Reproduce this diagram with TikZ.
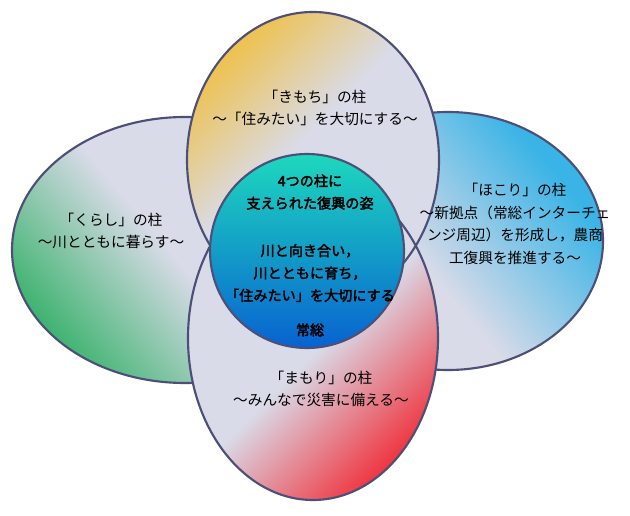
\documentclass[tikz,border=0pt]{standalone}
\usepackage{fontspec}
\newfontfamily\jpfont[AutoFakeBold=2.5]{Noto Sans CJK JP}
\usetikzlibrary{positioning}
\definecolor{pillarGray}{RGB}{217,219,232}
\definecolor{edgeSlate}{RGB}{76,80,120}
\definecolor{kimochiGold}{RGB}{241,190,58}
\definecolor{kurashiGreen}{RGB}{58,178,108}
\definecolor{hokoriBlue}{RGB}{58,180,230}
\definecolor{mamoriRed}{RGB}{240,48,58}
\definecolor{coreTeal}{RGB}{30,216,190}
\definecolor{coreCyan}{RGB}{24,180,230}
\definecolor{coreBlue}{RGB}{8,98,208}
\pgfdeclarehorizontalshading{kimochiShade}{100bp}{color(0bp)=(kimochiGold); color(22bp)=(kimochiGold); color(46bp)=(pillarGray); color(100bp)=(pillarGray)}
\pgfdeclarehorizontalshading{kurashiShade}{100bp}{color(0bp)=(kurashiGreen); color(24bp)=(kurashiGreen); color(48bp)=(pillarGray); color(100bp)=(pillarGray)}
\pgfdeclarehorizontalshading{hokoriShade}{100bp}{color(0bp)=(hokoriBlue); color(28bp)=(hokoriBlue); color(56bp)=(pillarGray); color(100bp)=(pillarGray)}
\pgfdeclarehorizontalshading{mamoriShade}{100bp}{color(0bp)=(mamoriRed); color(24bp)=(mamoriRed); color(48bp)=(pillarGray); color(100bp)=(pillarGray)}
\tikzset{
	pillar/.style={draw=edgeSlate, line width=1.6pt},
	pillarText/.style={font=\jpfont\fontsize{11}{17}\selectfont, align=center, inner sep=0pt},
	coreText/.style={font=\jpfont\bfseries\fontsize{10.6}{16.8}\selectfont, align=center, inner sep=0pt}
}

\begin{document}
\begin{tikzpicture}[x=0.75pt, y=-0.75pt]
	\path[use as bounding box, fill=white] (0,0) rectangle (630,516);
	% pillar: kurashi (left)
	\shade[pillar, shading=kurashiShade, shading angle=40] (185,250) ellipse [x radius=173, y radius=133];
	% pillar: hokori (right)
	\shade[pillar, shading=hokoriShade, shading angle=-140] (448,241) ellipse [x radius=155, y radius=129];
	% pillars: kimochi (top) and mamori (bottom), outlines after both fills
	\shade[shading=kimochiShade, shading angle=-45] (313,160) ellipse [x radius=126, y radius=148];
	\shade[shading=mamoriShade, shading angle=135] (313,338) ellipse [x radius=125, y radius=162];
	\draw[pillar] (313,160) ellipse [x radius=126, y radius=148];
	\draw[pillar] (313,338) ellipse [x radius=125, y radius=162];
	% core circle
	\shade[pillar, top color=coreTeal, middle color=coreCyan, bottom color=coreBlue] (307,251) circle [radius=97];
	% texts
	\node[pillarText] (kimochiText) at (315,108) {「きもち」の柱\\～「住みたい」を大切にする～};
	\node[pillarText] (kurashiText) at (111,231) {「くらし」の柱\\～川とともに暮らす～};
	\node[pillarText] (hokoriText) at (515,224) {「ほこり」の柱\\～新拠点（常総インターチェ\\ンジ周辺）を形成し，農商\\工復興を推進する～};
	\node[pillarText] (mamoriText) at (321,389) {「まもり」の柱\\～みんなで災害に備える～};
	\node[coreText] (coreTitle) at (310,192) {4つの柱に\\支えられた復興の姿};
	\node[coreText] (coreBody) at (310,273) {川と向き合い，\\川とともに育ち，\\「住みたい」を大切にする};
	\node[coreText] (coreName) at (310,330) {常総};
\end{tikzpicture}
\end{document}
